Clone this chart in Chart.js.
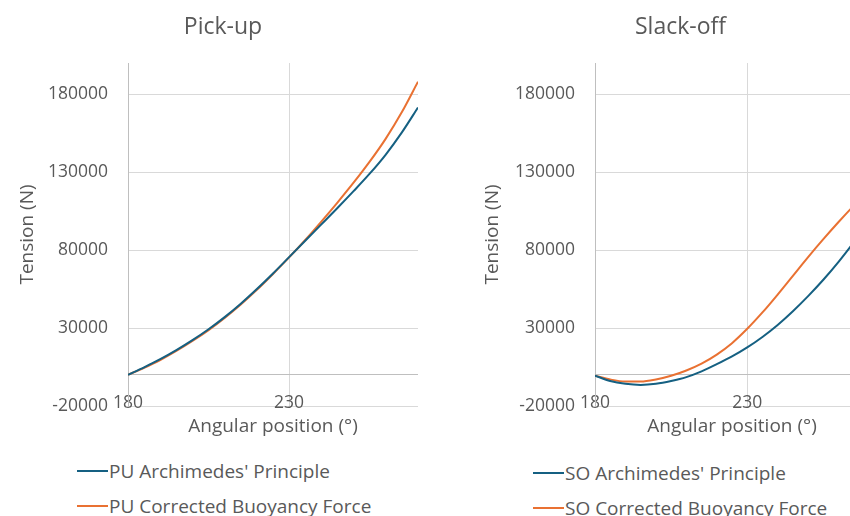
<!DOCTYPE html>
<html>
<head>
<meta charset="utf-8">
<script src="https://cdn.jsdelivr.net/npm/chart.js@4.4.1/dist/chart.umd.min.js"></script>
<style>
    html, body { margin: 0; padding: 0; background: #ffffff; overflow: hidden; }
    body { width: 850px; height: 516px; position: relative; font-family: 'Open Sans', sans-serif; }
    .grafico { position: absolute; top: 0; height: 450px; }
    .legenda { position: absolute; color: #595959; font-size: 19px; }
    .legenda__item { display: flex; align-items: center; height: 35px; white-space: nowrap; }
    .legenda__linha { display: inline-block; width: 31px; height: 2px; margin-right: 1px; }
</style>
</head>
<body>
<div class="grafico" style="left:0px; width:418px;"><canvas id="graficoPU"></canvas></div>
<div class="grafico" style="left:460px; width:409px;"><canvas id="graficoSO"></canvas></div>
<div class="legenda" id="legendaPU" style="left:77px; top:453px;"></div>
<div class="legenda" id="legendaSO" style="left:533px; top:455px;"></div>

<script>
// angular position (deg)
const angulos = [180, 185, 190, 195, 200, 205, 210, 215, 220, 225, 230, 235, 240, 245, 250, 255, 260, 265, 270];

// pick-up tension (N)
const puArquimedes = [0, 4800, 10000, 15800, 22200, 29200, 37000, 45600, 55000, 65000, 75500, 86000, 96500, 107000, 117800, 129000, 141300, 155500, 171500];
const puCorrigido  = [0, 4500, 9500, 15300, 21700, 28700, 36500, 45100, 54500, 64700, 75300, 86500, 98300, 110500, 123200, 136700, 151500, 168500, 188000];

// slack-off tension (N)
const soArquimedes = [-500, -4000, -5800, -6500, -5800, -4000, -1500, 2200, 6800, 11800, 17600, 24300, 32000, 40800, 50500, 61000, 72500, 85000, 98000];
const soCorrigido  = [-500, -3000, -4300, -4300, -3000, -600, 2800, 7200, 13000, 20300, 29500, 40000, 51500, 63500, 75500, 87000, 98000, 108500, 118500];

const ticksX = [180, 230];
const ticksY = [-20000, 0, 30000, 80000, 130000, 180000];

const corTexto = '#595959';
const corAzul  = '#156082';
const corLaranja = '#E97132';

function pontos(valores) {
    return angulos.map((a, i) => ({ x: a, y: valores[i] }));
}

// esquerda: padding que centraliza o titulo; larguraY: largura do eixo y
function opcoesGrafico(titulo, esquerda, larguraY, centroTituloY) {
    const fonteEixo = 19;
    return {
        responsive: true,
        maintainAspectRatio: false,
        animation: false,
        layout: { padding: { left: esquerda, right: 0, top: 0, bottom: 0 } },
        plugins: {
            legend: { display: false },
            tooltip: { enabled: false },
            title: {
                display: true,
                text: titulo,
                color: corTexto,
                font: { family: 'Open Sans', size: 23, weight: 'normal' },
                padding: { top: 14, bottom: 21.4 }
            }
        },
        elements: {
            point: { radius: 0 },
            line: { borderWidth: 2, tension: 0.4, cubicInterpolationMode: 'monotone' }
        },
        scales: {
            x: {
                type: 'linear',
                min: 180,
                max: 270,
                afterBuildTicks: s => { s.ticks = ticksX.map(v => ({ value: v })); },
                afterFit: s => { s.height = 44; },
                // rotulos sobre a linha de -20000, como no original
                ticks: { mirror: true, padding: -7.5, color: corTexto, maxRotation: 0, font: { family: 'Open Sans', size: 17.5 }, callback: v => String(v) },
                grid: { color: '#D9D9D9', drawTicks: false },
                border: { display: false },
                title: {
                    display: true,
                    text: 'Angular position (°)',
                    color: corTexto,
                    font: { family: 'Open Sans', size: fonteEixo },
                    padding: { top: 0, bottom: 11.6 }
                }
            },
            y: {
                min: -20000,
                max: 200000,
                afterBuildTicks: s => { s.ticks = ticksY.map(v => ({ value: v })); },
                afterFit: s => { s.width = larguraY; },
                ticks: { padding: 20, color: corTexto, autoSkip: false, font: { family: 'Open Sans', size: 17.5 }, callback: v => v === 0 ? '' : String(v) },
                grid: { color: ctx => ctx.tick && ctx.tick.value === 0 ? '#BFBFBF' : '#D9D9D9', drawTicks: false },
                border: { color: '#BFBFBF' },
                title: {
                    display: true,
                    text: 'Tension (N)',
                    color: corTexto,
                    font: { family: 'Open Sans', size: fonteEixo },
                    padding: { top: centroTituloY - esquerda - fonteEixo * 0.6, bottom: 0 }
                }
            }
        }
    };
}

function montarLegenda(grafico, idLegenda) {
    const legenda = document.getElementById(idLegenda);
    legenda.innerHTML = '';
    grafico.data.datasets.forEach(ds => {
        const item = document.createElement('div');
        item.className = 'legenda__item';
        item.innerHTML = `<span class="legenda__linha" style="background:${ds.borderColor}"></span><span>${ds.label}</span>`;
        legenda.appendChild(item);
    });
}

function carregarGraficoPU() {
    const grafico = new Chart(document.getElementById('graficoPU'), {
        type: 'line',
        data: {
            datasets: [
                { label: "PU Archimedes' Principle", data: pontos(puArquimedes), borderColor: corAzul, backgroundColor: corAzul },
                { label: 'PU Corrected Buoyancy Force', data: pontos(puCorrigido), borderColor: corLaranja, backgroundColor: corLaranja }
            ]
        },
        options: opcoesGrafico('Pick-up', 28, 100, 28)
    });
    montarLegenda(grafico, 'legendaPU');
}

function carregarGraficoSO() {
    const grafico = new Chart(document.getElementById('graficoSO'), {
        type: 'line',
        data: {
            datasets: [
                { label: "SO Archimedes' Principle", data: pontos(soArquimedes), borderColor: corAzul, backgroundColor: corAzul },
                { label: 'SO Corrected Buoyancy Force', data: pontos(soCorrigido), borderColor: corLaranja, backgroundColor: corLaranja }
            ]
        },
        options: opcoesGrafico('Slack-off', 32, 103, 33)
    });
    montarLegenda(grafico, 'legendaSO');
}

try {
    carregarGraficoPU();
    carregarGraficoSO();
} catch (erro) {
    console.log('ERRO AO CARREGAR GRAFICOS', erro);
}
</script>
</body>
</html>
